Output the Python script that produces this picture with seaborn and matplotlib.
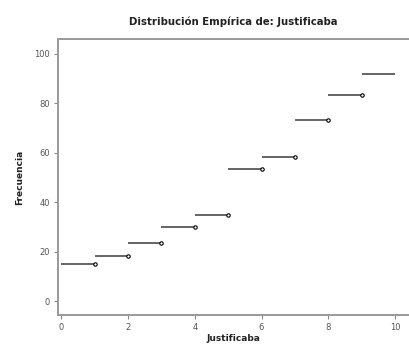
import numpy as np
import pandas as pd
import seaborn as sns
import matplotlib
matplotlib.use("Agg")
import matplotlib.pyplot as plt

# empirical distribution (cumulative %) per value of Justificaba
x_start = [0, 1, 2, 3, 4, 5, 6, 7, 8, 9]
x_end = [1, 2, 3, 4, 5, 6, 7, 8, 9, 10]
freq = [15.0, 18.3, 23.3, 30.0, 35.0, 53.3, 58.3, 73.3, 83.3, 91.7]
x_ticks = [0, 2, 4, 6, 8, 10]
y_ticks = [0, 20, 40, 60, 80, 100]

df = pd.DataFrame({"start": x_start, "end": x_end, "freq": freq})

sns.set_style("white")
plt.rcParams['font.family'] = ['DejaVu Sans']

fig = plt.figure(figsize=(4.09, 3.49), dpi=100)
ax = fig.add_axes([0.142, 0.097, 0.858, 0.791])

ax.hlines(df["freq"], df["start"], df["end"], color="#4a4a4a", lw=1.2)
# open dots at the right end of each step (last step has none)
dots = df.iloc[:-1]
sns.scatterplot(data=dots, x="end", y="freq", ax=ax, s=6, marker="o",
                facecolor="white", edgecolor="black", linewidth=0.8, zorder=3)

ax.set_xlim(-0.1, 10.42)
ax.set_ylim(-5.7, 106)
ax.set_xticks(x_ticks)
ax.set_yticks(y_ticks)
ax.tick_params(axis="both", bottom=True, left=True, length=3, width=0.8,
               color="#888888", labelsize=6, labelcolor="#555555", pad=3,
               direction="out")
for side in ["left", "bottom", "top"]:
    ax.spines[side].set_color("#999999")
    ax.spines[side].set_linewidth(1.4)
ax.spines["right"].set_visible(False)

ax.set_title("Distribución Empírica de: Justificaba", fontsize=7.3,
             fontweight="bold", color="#222222", pad=10)
ax.set_xlabel("Justificaba", fontsize=6.5, fontweight="bold", color="#222222", labelpad=1)
ax.set_ylabel("Frecuencia", fontsize=6.5, fontweight="bold", color="#222222", labelpad=7)

fig.savefig("out.png", dpi=100)
